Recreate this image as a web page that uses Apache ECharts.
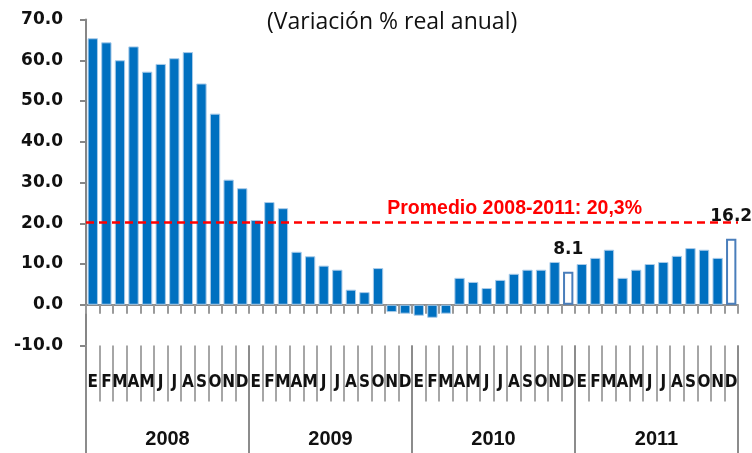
<!DOCTYPE html>
<html><head><meta charset="utf-8">
<script src="https://cdn.jsdelivr.net/npm/echarts@6/dist/echarts.min.js"></script>
<style>html,body{margin:0;padding:0;background:#fff}#c{width:752px;height:453px}</style>
</head><body><div id="c"></div><script>
const titleText = '(Variación % real anual)';
const years = ['2008', '2009', '2010', '2011'];
const monthInitials = ['E', 'F', 'M', 'A', 'M', 'J', 'J', 'A', 'S', 'O', 'N', 'D'];
const values2008 = [65.4, 64.4, 60.0, 63.4, 57.2, 59.1, 60.5, 62.0, 54.3, 46.9, 30.7, 28.6];
const values2009 = [20.8, 25.2, 23.7, 13.0, 11.9, 9.6, 8.6, 3.7, 3.1, 9.0, -1.8, -2.2];
const values2010 = [-2.7, -3.2, -2.2, 6.6, 5.6, 4.1, 6.1, 7.6, 8.6, 8.6, 10.5, 8.1];
const values2011 = [10.0, 11.5, 13.5, 6.6, 8.6, 10.0, 10.5, 12.0, 13.9, 13.5, 11.5, 16.2];
const averageValue = 20.3;
const averageLabel = 'Promedio 2008-2011: 20,3%';
const labelledKeys = ['2010-12', '2011-12'];
const yMin = -10, yMax = 70, yStep = 10;

const allValues = [values2008, values2009, values2010, values2011];
const categories = [];
const values = [];
years.forEach((y, yi) => {
  monthInitials.forEach((m, mi) => {
    categories.push(y + '-' + (mi + 1) + '-' + m);
    values.push(allValues[yi][mi]);
  });
});
const keyOf = c => c.split('-').slice(0, 2).join('-');
const barData = values.map((v, i) => {
  const k = keyOf(categories[i]);
  if (labelledKeys.indexOf(k) >= 0) {
    return {
      value: v,
      itemStyle: { color: '#ffffff', borderColor: '#4a7ebb', borderWidth: 2 },
      label: { show: true }
    };
  }
  return v;
});

const chart = echarts.init(document.getElementById('c'));
chart.setOption({
  animation: false,
  backgroundColor: '#ffffff',
  title: {
    text: titleText, left: 262, top: 6,
    textStyle: { fontFamily: 'Open Sans', fontWeight: 'normal', fontSize: 23, color: '#111' }
  },
  grid: { left: 86, right: 14, top: 19.5, bottom: 107.5, containLabel: false },
  xAxis: [
    {
      type: 'category', data: categories, position: 'bottom',
      axisLine: { onZero: true, lineStyle: { color: '#8c8c8c', width: 2 } },
      axisTick: { show: true, length: 9, alignWithLabel: false, interval: 0, lineStyle: { color: '#9a9a9a', width: 2 } },
      axisLabel: { show: false }, splitLine: { show: false }
    },
    {
      type: 'category', data: categories, position: 'bottom', offset: 0,
      axisLine: { show: false, onZero: false },
      axisTick: { show: true, length: 56, interval: 0, lineStyle: { color: '#a6a6a6', width: 2 } },
      axisLabel: {
        show: true, interval: 0, margin: 29,
        formatter: v => v.split('-')[2],
        fontFamily: 'DejaVu Sans Condensed, Liberation Sans, sans-serif', fontWeight: 'bold', fontSize: 17, color: '#111'
      },
      splitLine: { show: false }
    },
    {
      type: 'category', data: years, position: 'bottom', offset: 0,
      axisLine: { show: false, onZero: false },
      axisTick: { show: true, length: 108, interval: 0, lineStyle: { color: '#8c8c8c', width: 2 } },
      axisLabel: {
        show: true, interval: 0, margin: 84,
        fontFamily: 'Liberation Sans', fontWeight: 'bold', fontSize: 20, color: '#111'
      },
      splitLine: { show: false }
    }
  ],
  yAxis: {
    type: 'value', min: yMin, max: yMax, interval: yStep,
    axisLine: { show: true, lineStyle: { color: '#868686', width: 2 } },
    axisTick: { show: true, length: 6, lineStyle: { color: '#868686', width: 2 } },
    axisLabel: {
      margin: 23, formatter: v => v.toFixed(1),
      fontFamily: 'DejaVu Sans', fontWeight: 'bold', fontSize: 17, color: '#111'
    },
    splitLine: { show: false }
  },
  series: [{
    type: 'bar', xAxisIndex: 0, data: barData,
    barCategoryGap: '24%',
    itemStyle: { color: '#0070c0', borderColor: '#a9cbe9', borderWidth: 1 },
    label: {
      show: false, position: 'top', distance: 14,
      fontFamily: 'DejaVu Sans', fontWeight: 'bold', fontSize: 17, color: '#111',
      formatter: p => p.value.toFixed(1)
    },
    markLine: {
      silent: true, symbol: 'none',
      lineStyle: { color: '#ff0000', type: [8, 5], width: 2.5 },
      label: {
        show: true, position: 'insideEndTop', distance: [96, 3],
        formatter: averageLabel,
        fontFamily: 'Liberation Sans', fontWeight: 'bold', fontSize: 19.5, color: '#ff0000'
      },
      data: [{ yAxis: averageValue }]
    }
  }]
});
</script></body></html>
